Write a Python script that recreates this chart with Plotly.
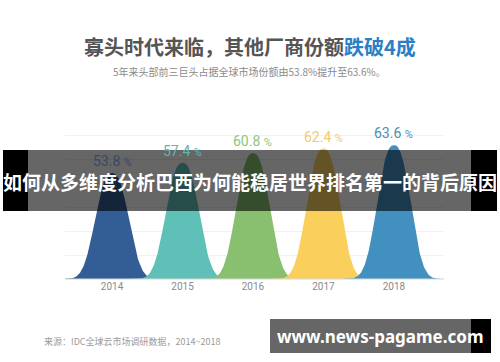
import numpy as np
import plotly.graph_objects as go

years = ["2014", "2015", "2016", "2017", "2018"]
shares = [53.8, 57.4, 60.8, 62.4, 63.6]
bell_colors = ["#335e95", "#5fc0b8", "#88c06f", "#fbcf5b", "#4190bf"]
label_colors = ["#37486a", "#5bb6ae", "#8cc77a", "#f3cb68", "#4b8db6"]

title_main = "寡头时代来临，其他厂商份额"
title_hl = "跌破4成"
subtitle = "5年来头部前三巨头占据全球市场份额由53.8%提升至63.6%。"
source = "来源：IDC全球云市场调研数据，2014~2018"
banner = "如何从多维度分析巴西为何能稳居世界排名第一的背后原因"
watermark = "www.news-pagame.com"

W, H = 500, 362
L, R, T, B = 65, 444, 112, 279
y0, y1 = 16.7, 75.2

def px(x):
    return (x - L) / (R - L)

def py(y):
    return (B - y) / (B - T)

fig = go.Figure()
s, p = 0.30, 2.5
for i, (yr, v) in enumerate(zip(years, shares)):
    xs = np.linspace(i - 0.75, i + 0.75, 241)
    ys = y0 + (v - y0) * np.exp(-np.abs((xs - i) / s) ** p)
    fig.add_trace(go.Scatter(x=xs, y=ys, mode="lines", line=dict(width=0, color=bell_colors[i]),
                             fill="tozeroy", fillcolor=bell_colors[i], hoverinfo="skip",
                             showlegend=False))
    fig.add_annotation(x=i, y=v, yshift=12, showarrow=False,
                       text=f"{v:.1f} <span style='font-size:11px'>%</span>",
                       font=dict(family="Roboto", size=14, color=label_colors[i]))

fig.update_xaxes(range=[-0.667, 4.71], tickvals=list(range(5)), ticktext=years,
                 showgrid=False, zeroline=False, showline=False, ticks="",
                 tickfont=dict(family="Roboto", size=10, color="#8a8a8a"), fixedrange=True)
fig.update_yaxes(range=[y0, y1], tick0=y0, dtick=(y1 - y0) / 7, showticklabels=False,
                 showgrid=True, gridcolor="#f1f1f1", gridwidth=1, zeroline=False,
                 showline=False, fixedrange=True)

shapes = [
    dict(type="line", xref="paper", yref="paper", x0=0, x1=1, y0=0, y1=0,
         line=dict(color="#d5d5d5", width=1)),
    dict(type="rect", xref="paper", yref="paper", x0=px(3), x1=px(28), y0=py(211), y1=py(150),
         fillcolor="#000000", line=dict(width=0), layer="above"),
    dict(type="rect", xref="paper", yref="paper", x0=px(28), x1=px(471), y0=py(211), y1=py(150),
         fillcolor="rgba(0,0,0,0.6)", line=dict(width=0), layer="above"),
    dict(type="rect", xref="paper", yref="paper", x0=px(471), x1=px(497), y0=py(211), y1=py(150),
         fillcolor="#000000", line=dict(width=0), layer="above"),
    dict(type="rect", xref="paper", yref="paper", x0=px(270), x1=px(471), y0=py(353), y1=py(319),
         fillcolor="#666666", line=dict(width=0), layer="above"),
    dict(type="rect", xref="paper", yref="paper", x0=px(471), x1=px(491), y0=py(353), y1=py(319),
         fillcolor="#000000", line=dict(width=0), layer="above"),
]

cjk = "Noto Sans CJK SC"
ann = [
    dict(x=px(250), y=py(46), text=f"<b>{title_main}<span style='color:#2a80c6'>{title_hl}</span></b>",
         font=dict(family=cjk, size=20, color="#555555")),
    dict(x=px(249), y=py(71), text=subtitle, font=dict(family=cjk, size=10, color="#8a8a8a")),
    dict(x=px(250), y=py(181), text=f"<b>{banner}</b>", font=dict(family=cjk, size=19, color="#ffffff")),
    dict(x=px(132), y=py(341), text=source, font=dict(family=cjk, size=9, color="#9a9a9a")),
    dict(x=px(380), y=py(336), text=f"<b>{watermark}</b>", font=dict(family="Noto Sans", size=17, color="#ffffff")),
]
for a in ann:
    fig.add_annotation(xref="paper", yref="paper", showarrow=False, xanchor="center", yanchor="middle", **a)

fig.update_layout(width=W, height=H, margin=dict(l=L, r=W - R, t=T, b=H - B),
                  paper_bgcolor="white", plot_bgcolor="white", shapes=shapes)
fig.write_html("out.html")
